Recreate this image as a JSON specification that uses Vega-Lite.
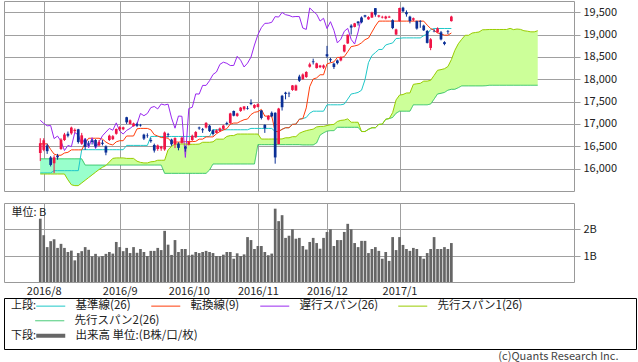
{
"$schema":"https://vega.github.io/schema/vega-lite/v6.json",
"padding":{"left":3,"top":0,"right":0,"bottom":0},
"background":"white",
"config":{"font":"Noto Sans CJK JP","view":{"stroke":"#999999","strokeWidth":1},
"axis":{"labelFont":"Noto Sans CJK JP","labelFontSize":11,"labelColor":"#222222","gridColor":"#a0a0a0","gridWidth":1,"gridOpacity":1,"tickColor":"#a0a0a0","tickWidth":1,"labelOverlap":false},
"legend":{"labelFont":"Noto Sans CJK JP","titleFont":"Noto Sans CJK JP","labelColor":"#222222","titleColor":"#222222"},
"title":{"font":"Noto Sans CJK JP"}},
"title":{"text":"(c)Quants Research Inc.","orient":"bottom","anchor":"end","fontSize":11,"fontWeight":"normal","color":"#444444","offset":1,"dx":-18},
"data":{"values":[
{"d":"2016-07-29","o":16350,"h":16680,"l":16170,"c":16569,"v":2.39,"tk":16554,"kj":15904,"ch":17081,"s1":15880,"s2":16220},
{"d":"2016-08-01","o":16420,"h":16680,"l":16390,"c":16635,"v":1.78,"tk":16554,"kj":15904,"ch":17012,"s1":15880,"s2":16220},
{"d":"2016-08-02","o":16520,"h":16560,"l":16330,"c":16391,"v":1.34,"tk":16554,"kj":15904,"ch":16958,"s1":15880,"s2":16220},
{"d":"2016-08-03","o":16250,"h":16280,"l":16050,"c":16083,"v":1.56,"tk":16430,"kj":15904,"ch":16965,"s1":15880,"s2":16220},
{"d":"2016-08-04","o":16120,"h":16300,"l":15900,"c":16254,"v":1.63,"tk":16325,"kj":15955,"ch":16672,"s1":15880,"s2":16220},
{"d":"2016-08-05","o":16290,"h":16330,"l":16200,"c":16254,"v":1.31,"tk":16300,"kj":15955,"ch":16729,"s1":15880,"s2":16220},
{"d":"2016-08-08","o":16440,"h":16680,"l":16420,"c":16650,"v":1.46,"tk":16300,"kj":15955,"ch":16614,"s1":15880,"s2":16220},
{"d":"2016-08-09","o":16640,"h":16800,"l":16620,"c":16764,"v":1.31,"tk":16350,"kj":15955,"ch":16405,"s1":15880,"s2":16220},
{"d":"2016-08-10","o":16780,"h":16830,"l":16700,"c":16735,"v":1.16,"tk":16365,"kj":15955,"ch":16519,"s1":15750,"s2":16220},
{"d":"2016-08-12","o":16790,"h":16940,"l":16760,"c":16919,"v":1.21,"tk":16420,"kj":15955,"ch":16492,"s1":15640,"s2":16220},
{"d":"2016-08-15","o":16840,"h":16900,"l":16800,"c":16869,"v":0.85,"tk":16420,"kj":15955,"ch":16807,"s1":15620,"s2":16220},
{"d":"2016-08-16","o":16880,"h":16890,"l":16560,"c":16596,"v":1.12,"tk":16420,"kj":15955,"ch":16754,"s1":15620,"s2":16220},
{"d":"2016-08-17","o":16560,"h":16800,"l":16540,"c":16745,"v":1.19,"tk":16420,"kj":16424,"ch":16544,"s1":15680,"s2":16220},
{"d":"2016-08-18","o":16650,"h":16670,"l":16420,"c":16486,"v":1.34,"tk":16570,"kj":16424,"ch":16683,"s1":15740,"s2":16080},
{"d":"2016-08-19","o":16560,"h":16620,"l":16500,"c":16545,"v":1.24,"tk":16680,"kj":16424,"ch":16465,"s1":15800,"s2":16080},
{"d":"2016-08-22","o":16630,"h":16660,"l":16540,"c":16598,"v":1.00,"tk":16680,"kj":16424,"ch":16693,"s1":15860,"s2":16080},
{"d":"2016-08-23","o":16640,"h":16660,"l":16470,"c":16497,"v":1.09,"tk":16680,"kj":16424,"ch":16449,"s1":15920,"s2":16080},
{"d":"2016-08-24","o":16520,"h":16640,"l":16500,"c":16597,"v":0.97,"tk":16680,"kj":16424,"ch":16598,"s1":15980,"s2":16080},
{"d":"2016-08-25","o":16580,"h":16640,"l":16520,"c":16555,"v":1.01,"tk":16660,"kj":16424,"ch":16735,"s1":16030,"s2":16080},
{"d":"2016-08-26","o":16500,"h":16520,"l":16300,"c":16360,"v":1.09,"tk":16595,"kj":16424,"ch":16819,"s1":16070,"s2":16080},
{"d":"2016-08-29","o":16640,"h":16760,"l":16620,"c":16737,"v":1.16,"tk":16550,"kj":16424,"ch":16899,"s1":16150,"s2":16080},
{"d":"2016-08-30","o":16660,"h":16750,"l":16640,"c":16725,"v":1.10,"tk":16530,"kj":16424,"ch":16860,"s1":16230,"s2":16080},
{"d":"2016-08-31","o":16780,"h":16900,"l":16760,"c":16887,"v":1.53,"tk":16600,"kj":16424,"ch":17024,"s1":16240,"s2":16080},
{"d":"2016-09-01","o":16880,"h":16950,"l":16850,"c":16926,"v":1.34,"tk":16625,"kj":16424,"ch":16840,"s1":16240,"s2":16080},
{"d":"2016-09-02","o":16880,"h":16940,"l":16860,"c":16925,"v":1.19,"tk":16625,"kj":16424,"ch":16774,"s1":16240,"s2":16080},
{"d":"2016-09-05","o":17150,"h":17160,"l":17000,"c":17037,"v":1.31,"tk":16730,"kj":16520,"ch":16856,"s1":16229,"s2":16080},
{"d":"2016-09-06","o":17000,"h":17100,"l":16990,"c":17081,"v":1.12,"tk":16730,"kj":16520,"ch":16900,"s1":16229,"s2":16080},
{"d":"2016-09-07","o":16950,"h":17030,"l":16940,"c":17012,"v":1.34,"tk":16730,"kj":16520,"ch":16963,"s1":16229,"s2":16080},
{"d":"2016-09-08","o":17000,"h":17030,"l":16930,"c":16958,"v":1.13,"tk":16890,"kj":16520,"ch":16998,"s1":16167,"s2":16080},
{"d":"2016-09-09","o":16980,"h":17000,"l":16940,"c":16965,"v":1.27,"tk":16900,"kj":16520,"ch":17235,"s1":16140,"s2":16080},
{"d":"2016-09-12","o":16760,"h":16780,"l":16640,"c":16672,"v":1.16,"tk":16900,"kj":16520,"ch":17184,"s1":16128,"s2":16080},
{"d":"2016-09-13","o":16740,"h":16790,"l":16690,"c":16729,"v":1.01,"tk":16900,"kj":16520,"ch":17234,"s1":16128,"s2":16080},
{"d":"2016-09-14","o":16640,"h":16690,"l":16580,"c":16614,"v":1.20,"tk":16870,"kj":16720,"ch":17365,"s1":16153,"s2":16080},
{"d":"2016-09-15","o":16530,"h":16560,"l":16360,"c":16405,"v":1.20,"tk":16760,"kj":16720,"ch":17391,"s1":16160,"s2":16080},
{"d":"2016-09-16","o":16440,"h":16540,"l":16400,"c":16519,"v":1.31,"tk":16730,"kj":16720,"ch":17336,"s1":16188,"s2":16080},
{"d":"2016-09-20","o":16450,"h":16510,"l":16400,"c":16492,"v":1.23,"tk":16695,"kj":16720,"ch":17446,"s1":16188,"s2":16080},
{"d":"2016-09-21","o":16430,"h":16830,"l":16400,"c":16807,"v":1.94,"tk":16695,"kj":16720,"ch":17425,"s1":16188,"s2":15895},
{"d":"2016-09-23","o":16770,"h":16800,"l":16700,"c":16754,"v":1.43,"tk":16680,"kj":16720,"ch":17442,"s1":16422,"s2":15895},
{"d":"2016-09-26","o":16650,"h":16670,"l":16510,"c":16544,"v":1.05,"tk":16595,"kj":16720,"ch":17134,"s1":16497,"s2":15895},
{"d":"2016-09-27","o":16540,"h":16700,"l":16460,"c":16683,"v":1.60,"tk":16595,"kj":16720,"ch":16905,"s1":16552,"s2":15895},
{"d":"2016-09-28","o":16560,"h":16590,"l":16410,"c":16465,"v":1.16,"tk":16595,"kj":16720,"ch":17177,"s1":16552,"s2":15895},
{"d":"2016-09-29","o":16580,"h":16720,"l":16560,"c":16693,"v":1.27,"tk":16595,"kj":16720,"ch":17171,"s1":16552,"s2":15895},
{"d":"2016-09-30","o":16490,"h":16510,"l":16380,"c":16449,"v":1.27,"tk":16605,"kj":16720,"ch":16251,"s1":16552,"s2":15895},
{"d":"2016-10-03","o":16540,"h":16620,"l":16520,"c":16598,"v":1.04,"tk":16605,"kj":16720,"ch":17344,"s1":16542,"s2":15895},
{"d":"2016-10-04","o":16640,"h":16760,"l":16620,"c":16735,"v":1.06,"tk":16605,"kj":16720,"ch":17374,"s1":16545,"s2":15895},
{"d":"2016-10-05","o":16700,"h":16840,"l":16690,"c":16819,"v":1.16,"tk":16610,"kj":16720,"ch":17672,"s1":16545,"s2":15895},
{"d":"2016-10-06","o":16920,"h":16940,"l":16870,"c":16899,"v":1.12,"tk":16660,"kj":16720,"ch":17668,"s1":16550,"s2":15895},
{"d":"2016-10-07","o":16880,"h":16910,"l":16800,"c":16860,"v":1.16,"tk":16660,"kj":16720,"ch":17862,"s1":16590,"s2":15895},
{"d":"2016-10-11","o":16920,"h":17040,"l":16900,"c":17024,"v":1.20,"tk":16710,"kj":16720,"ch":17862,"s1":16590,"s2":15895},
{"d":"2016-10-12","o":16960,"h":16980,"l":16820,"c":16840,"v":1.16,"tk":16710,"kj":16720,"ch":17967,"s1":16590,"s2":15970},
{"d":"2016-10-13","o":16860,"h":16880,"l":16740,"c":16774,"v":1.12,"tk":16710,"kj":16870,"ch":18106,"s1":16600,"s2":16104},
{"d":"2016-10-14","o":16800,"h":16880,"l":16790,"c":16856,"v":1.01,"tk":16780,"kj":16870,"ch":18162,"s1":16660,"s2":16104},
{"d":"2016-10-17","o":16840,"h":16920,"l":16820,"c":16900,"v":1.01,"tk":16830,"kj":16870,"ch":18333,"s1":16660,"s2":16104},
{"d":"2016-10-18","o":16890,"h":16980,"l":16870,"c":16963,"v":1.06,"tk":16865,"kj":16870,"ch":18381,"s1":16660,"s2":16104},
{"d":"2016-10-19","o":17020,"h":17050,"l":16970,"c":16998,"v":1.16,"tk":16895,"kj":16870,"ch":18356,"s1":16720,"s2":16104},
{"d":"2016-10-20","o":17020,"h":17250,"l":17000,"c":17235,"v":1.16,"tk":16995,"kj":16870,"ch":18307,"s1":16740,"s2":16104},
{"d":"2016-10-21","o":17290,"h":17300,"l":17170,"c":17184,"v":0.91,"tk":17020,"kj":16870,"ch":18308,"s1":16740,"s2":16104},
{"d":"2016-10-24","o":17180,"h":17250,"l":17160,"c":17234,"v":1.11,"tk":17020,"kj":16870,"ch":18513,"s1":16774,"s2":16104},
{"d":"2016-10-25","o":17290,"h":17380,"l":17270,"c":17365,"v":1.01,"tk":17060,"kj":16870,"ch":18426,"s1":16774,"s2":16104},
{"d":"2016-10-26","o":17330,"h":17400,"l":17300,"c":17391,"v":1.07,"tk":17095,"kj":16870,"ch":18274,"s1":16774,"s2":16104},
{"d":"2016-10-27","o":17350,"h":17400,"l":17320,"c":17336,"v":1.71,"tk":17110,"kj":16870,"ch":18360,"s1":16774,"s2":16104},
{"d":"2016-10-28","o":17470,"h":17550,"l":17420,"c":17446,"v":1.60,"tk":17210,"kj":16900,"ch":18496,"s1":16774,"s2":16104},
{"d":"2016-10-31","o":17360,"h":17440,"l":17340,"c":17425,"v":1.27,"tk":17260,"kj":16900,"ch":18765,"s1":16774,"s2":16104},
{"d":"2016-11-01","o":17380,"h":17460,"l":17370,"c":17442,"v":1.38,"tk":17275,"kj":16900,"ch":18996,"s1":16774,"s2":16536},
{"d":"2016-11-02","o":17300,"h":17310,"l":17100,"c":17134,"v":1.38,"tk":17325,"kj":16900,"ch":19155,"s1":16662,"s2":16536},
{"d":"2016-11-04","o":16980,"h":16990,"l":16800,"c":16905,"v":1.16,"tk":17175,"kj":16900,"ch":19250,"s1":16662,"s2":16536},
{"d":"2016-11-07","o":17100,"h":17200,"l":17080,"c":17177,"v":1.04,"tk":17175,"kj":16900,"ch":19253,"s1":16662,"s2":16536},
{"d":"2016-11-08","o":17250,"h":17280,"l":17150,"c":17171,"v":1.10,"tk":17175,"kj":16900,"ch":19273,"s1":16663,"s2":16536},
{"d":"2016-11-09","o":17250,"h":17260,"l":16111,"c":16251,"v":2.76,"tk":16830,"kj":16830,"ch":19401,"s1":16663,"s2":16536},
{"d":"2016-11-10","o":16550,"h":17360,"l":16540,"c":17344,"v":2.30,"tk":16830,"kj":16830,"ch":19391,"s1":16663,"s2":16536},
{"d":"2016-11-11","o":17630,"h":17650,"l":17300,"c":17374,"v":2.52,"tk":16880,"kj":16880,"ch":19494,"s1":16665,"s2":16536},
{"d":"2016-11-14","o":17700,"h":17720,"l":17550,"c":17672,"v":1.68,"tk":16915,"kj":16915,"ch":19444,"s1":16690,"s2":16536},
{"d":"2016-11-15","o":17680,"h":17720,"l":17600,"c":17668,"v":1.76,"tk":16915,"kj":16915,"ch":19427,"s1":16690,"s2":16536},
{"d":"2016-11-16","o":17760,"h":17870,"l":17740,"c":17862,"v":2.00,"tk":16990,"kj":16990,"ch":19396,"s1":16715,"s2":16536},
{"d":"2016-11-17","o":17750,"h":17880,"l":17740,"c":17862,"v":1.65,"tk":16995,"kj":16995,"ch":19403,"s1":16715,"s2":16536},
{"d":"2016-11-18","o":18060,"h":18100,"l":17940,"c":17967,"v":1.68,"tk":17105,"kj":17105,"ch":19401,"s1":16790,"s2":16536},
{"d":"2016-11-21","o":18000,"h":18130,"l":17990,"c":18106,"v":1.38,"tk":17120,"kj":17120,"ch":19145,"s1":16825,"s2":16530},
{"d":"2016-11-22","o":18050,"h":18180,"l":18030,"c":18162,"v":1.25,"tk":17360,"kj":17145,"ch":19114,"s1":16850,"s2":16530},
{"d":"2016-11-24","o":18280,"h":18370,"l":18260,"c":18333,"v":1.53,"tk":17835,"kj":17240,"ch":19594,"s1":16868,"s2":16530},
{"d":"2016-11-25","o":18400,"h":18460,"l":18330,"c":18381,"v":1.68,"tk":18005,"kj":17285,"ch":19520,"s1":16883,"s2":16530},
{"d":"2016-11-28","o":18250,"h":18370,"l":18240,"c":18356,"v":1.49,"tk":18030,"kj":17285,"ch":19454,"s1":16933,"s2":16575},
{"d":"2016-11-29","o":18270,"h":18320,"l":18250,"c":18307,"v":1.28,"tk":18100,"kj":17285,"ch":19301,"s1":16945,"s2":16750},
{"d":"2016-11-30","o":18260,"h":18330,"l":18230,"c":18308,"v":1.68,"tk":18100,"kj":17285,"ch":19364,"s1":16945,"s2":16800},
{"d":"2016-12-01","o":18560,"h":18746,"l":18480,"c":18513,"v":1.90,"tk":18343,"kj":17428,"ch":19134,"s1":16965,"s2":16840},
{"d":"2016-12-02","o":18450,"h":18480,"l":18380,"c":18426,"v":2.00,"tk":18368,"kj":17428,"ch":19287,"s1":16983,"s2":16850},
{"d":"2016-12-05","o":18350,"h":18370,"l":18230,"c":18274,"v":1.38,"tk":18388,"kj":17428,"ch":19095,"s1":16990,"s2":16850},
{"d":"2016-12-06","o":18420,"h":18440,"l":18330,"c":18360,"v":1.60,"tk":18488,"kj":17428,"ch":18813,"s1":17055,"s2":16925},
{"d":"2016-12-07","o":18420,"h":18510,"l":18400,"c":18496,"v":1.60,"tk":18488,"kj":17428,"ch":18894,"s1":17080,"s2":16925},
{"d":"2016-12-08","o":18620,"h":18780,"l":18600,"c":18765,"v":1.90,"tk":18505,"kj":17445,"ch":19072,"s1":17088,"s2":16925},
{"d":"2016-12-09","o":18800,"h":19000,"l":18790,"c":18996,"v":2.20,"tk":18615,"kj":17555,"ch":19137,"s1":17113,"s2":16925},
{"d":"2016-12-12","o":19200,"h":19230,"l":19000,"c":19155,"v":2.00,"tk":18730,"kj":17670,"ch":18891,"s1":17038,"s2":16925},
{"d":"2016-12-13","o":19170,"h":19260,"l":19160,"c":19250,"v":1.49,"tk":18745,"kj":17685,"ch":18787,"s1":17038,"s2":16925},
{"d":"2016-12-14","o":19290,"h":19300,"l":19200,"c":19253,"v":1.34,"tk":18765,"kj":17705,"ch":19057,"s1":17038,"s2":16925},
{"d":"2016-12-15","o":19380,"h":19400,"l":19250,"c":19273,"v":1.57,"tk":18815,"kj":17755,"ch":19402,"s1":16830,"s2":16830},
{"d":"2016-12-16","o":19430,"h":19440,"l":19380,"c":19401,"v":1.57,"tk":18885,"kj":17990,"s1":16830,"s2":16830},
{"d":"2016-12-19","o":19340,"h":19410,"l":19330,"c":19391,"v":1.12,"tk":18920,"kj":18370,"s1":16880,"s2":16880},
{"d":"2016-12-20","o":19380,"h":19510,"l":19370,"c":19494,"v":1.27,"tk":19055,"kj":18530,"s1":16915,"s2":16915},
{"d":"2016-12-21","o":19590,"h":19592,"l":19400,"c":19444,"v":1.34,"tk":19191,"kj":18596,"s1":16915,"s2":16915},
{"d":"2016-12-22","o":19400,"h":19440,"l":19380,"c":19427,"v":1.20,"tk":19300,"kj":18666,"s1":16990,"s2":16990},
{"d":"2016-12-26","o":19380,"h":19420,"l":19360,"c":19396,"v":0.91,"tk":19300,"kj":18666,"s1":16995,"s2":16995},
{"d":"2016-12-27","o":19360,"h":19420,"l":19340,"c":19403,"v":1.16,"tk":19300,"kj":18766,"s1":17105,"s2":17105},
{"d":"2016-12-28","o":19380,"h":19420,"l":19370,"c":19401,"v":0.83,"tk":19300,"kj":18791,"s1":17120,"s2":17120},
{"d":"2016-12-29","o":19320,"h":19340,"l":19120,"c":19145,"v":1.71,"tk":19300,"kj":18811,"s1":17253,"s2":17145},
{"d":"2016-12-30","o":19000,"h":19130,"l":18990,"c":19114,"v":1.23,"tk":19300,"kj":18911,"s1":17538,"s2":17240},
{"d":"2017-01-04","o":19300,"h":19600,"l":19290,"c":19594,"v":1.71,"tk":19300,"kj":18915,"s1":17645,"s2":17285},
{"d":"2017-01-05","o":19600,"h":19620,"l":19500,"c":19520,"v":1.42,"tk":19300,"kj":18925,"s1":17658,"s2":17285},
{"d":"2017-01-06","o":19500,"h":19540,"l":19400,"c":19454,"v":1.27,"tk":19300,"kj":18925,"s1":17693,"s2":17285},
{"d":"2017-01-10","o":19400,"h":19420,"l":19250,"c":19301,"v":1.20,"tk":19300,"kj":18925,"s1":17693,"s2":17285},
{"d":"2017-01-11","o":19330,"h":19380,"l":19300,"c":19364,"v":1.31,"tk":19300,"kj":18925,"s1":17886,"s2":17428},
{"d":"2017-01-12","o":19300,"h":19310,"l":19110,"c":19134,"v":1.27,"tk":19300,"kj":18925,"s1":17898,"s2":17428},
{"d":"2017-01-13","o":19300,"h":19320,"l":19150,"c":19287,"v":1.01,"tk":19300,"kj":18925,"s1":17908,"s2":17428},
{"d":"2017-01-16","o":19200,"h":19220,"l":19080,"c":19095,"v":0.91,"tk":19300,"kj":18975,"s1":17958,"s2":17428},
{"d":"2017-01-17","o":19080,"h":19100,"l":18800,"c":18813,"v":1.12,"tk":19210,"kj":19010,"s1":17958,"s2":17428},
{"d":"2017-01-18","o":18700,"h":18920,"l":18650,"c":18894,"v":1.27,"tk":19135,"kj":19110,"s1":17975,"s2":17445},
{"d":"2017-01-19","o":19080,"h":19120,"l":19050,"c":19072,"v":1.71,"tk":19095,"kj":19135,"s1":18085,"s2":17555},
{"d":"2017-01-20","o":19050,"h":19160,"l":19040,"c":19137,"v":1.27,"tk":19035,"kj":19135,"s1":18200,"s2":17670},
{"d":"2017-01-23","o":19050,"h":19080,"l":18870,"c":18891,"v":1.27,"tk":19015,"kj":19135,"s1":18215,"s2":17685},
{"d":"2017-01-24","o":18830,"h":18850,"l":18760,"c":18787,"v":1.34,"tk":18985,"kj":19135,"s1":18235,"s2":17705},
{"d":"2017-01-25","o":19070,"h":19100,"l":19010,"c":19057,"v":1.27,"tk":18985,"kj":19135,"s1":18285,"s2":17755},
{"d":"2017-01-26","o":19300,"h":19420,"l":19290,"c":19402,"v":1.49,"tk":19035,"kj":19135,"s1":18438,"s2":17775},
{"d":"2017-01-27","s1":18645,"s2":17775},
{"d":"2017-01-30","s1":18793,"s2":17810},
{"d":"2017-01-31","s1":18894,"s2":17851},
{"d":"2017-02-01","s1":18983,"s2":17851},
{"d":"2017-02-02","s1":18983,"s2":17851},
{"d":"2017-02-03","s1":19033,"s2":17851},
{"d":"2017-02-06","s1":19046,"s2":17851},
{"d":"2017-02-07","s1":19056,"s2":17851},
{"d":"2017-02-08","s1":19106,"s2":17851},
{"d":"2017-02-09","s1":19108,"s2":17855},
{"d":"2017-02-10","s1":19113,"s2":17865},
{"d":"2017-02-13","s1":19113,"s2":17865},
{"d":"2017-02-14","s1":19113,"s2":17865},
{"d":"2017-02-15","s1":19113,"s2":17865},
{"d":"2017-02-16","s1":19113,"s2":17865},
{"d":"2017-02-17","s1":19113,"s2":17865},
{"d":"2017-02-20","s1":19138,"s2":17865},
{"d":"2017-02-21","s1":19110,"s2":17865},
{"d":"2017-02-22","s1":19123,"s2":17865},
{"d":"2017-02-23","s1":19115,"s2":17865},
{"d":"2017-02-24","s1":19085,"s2":17865},
{"d":"2017-02-27","s1":19075,"s2":17865},
{"d":"2017-02-28","s1":19060,"s2":17865},
{"d":"2017-03-01","s1":19060,"s2":17865},
{"d":"2017-03-02","s1":19085,"s2":17865}
]},
"spacing":0,
"vconcat":[
{"spacing":10,"resolve":{"scale":{"x":"shared"}},
"vconcat":[
{"width":570,"height":190,
"encoding":{"x":{"field":"d","type":"ordinal","scale":{"type":"point","padding":0.5,"domain":["2016-07-14","2016-07-15","2016-07-19","2016-07-20","2016-07-21","2016-07-22","2016-07-25","2016-07-26","2016-07-27","2016-07-28","2016-07-29","2016-08-01","2016-08-02","2016-08-03","2016-08-04","2016-08-05","2016-08-08","2016-08-09","2016-08-10","2016-08-12","2016-08-15","2016-08-16","2016-08-17","2016-08-18","2016-08-19","2016-08-22","2016-08-23","2016-08-24","2016-08-25","2016-08-26","2016-08-29","2016-08-30","2016-08-31","2016-09-01","2016-09-02","2016-09-05","2016-09-06","2016-09-07","2016-09-08","2016-09-09","2016-09-12","2016-09-13","2016-09-14","2016-09-15","2016-09-16","2016-09-20","2016-09-21","2016-09-23","2016-09-26","2016-09-27","2016-09-28","2016-09-29","2016-09-30","2016-10-03","2016-10-04","2016-10-05","2016-10-06","2016-10-07","2016-10-11","2016-10-12","2016-10-13","2016-10-14","2016-10-17","2016-10-18","2016-10-19","2016-10-20","2016-10-21","2016-10-24","2016-10-25","2016-10-26","2016-10-27","2016-10-28","2016-10-31","2016-11-01","2016-11-02","2016-11-04","2016-11-07","2016-11-08","2016-11-09","2016-11-10","2016-11-11","2016-11-14","2016-11-15","2016-11-16","2016-11-17","2016-11-18","2016-11-21","2016-11-22","2016-11-24","2016-11-25","2016-11-28","2016-11-29","2016-11-30","2016-12-01","2016-12-02","2016-12-05","2016-12-06","2016-12-07","2016-12-08","2016-12-09","2016-12-12","2016-12-13","2016-12-14","2016-12-15","2016-12-16","2016-12-19","2016-12-20","2016-12-21","2016-12-22","2016-12-26","2016-12-27","2016-12-28","2016-12-29","2016-12-30","2017-01-04","2017-01-05","2017-01-06","2017-01-10","2017-01-11","2017-01-12","2017-01-13","2017-01-16","2017-01-17","2017-01-18","2017-01-19","2017-01-20","2017-01-23","2017-01-24","2017-01-25","2017-01-26","2017-01-27","2017-01-30","2017-01-31","2017-02-01","2017-02-02","2017-02-03","2017-02-06","2017-02-07","2017-02-08","2017-02-09","2017-02-10","2017-02-13","2017-02-14","2017-02-15","2017-02-16","2017-02-17","2017-02-20","2017-02-21","2017-02-22","2017-02-23","2017-02-24","2017-02-27","2017-02-28","2017-03-01","2017-03-02","2017-03-03","2017-03-06","2017-03-07","2017-03-08","2017-03-09","2017-03-10","2017-03-13","2017-03-14","2017-03-15","2017-03-16"]},"axis":{"values":["2016-08-01","2016-09-01","2016-10-03","2016-11-01","2016-12-01","2017-01-04"],"labels":false,"ticks":false,"domain":false,"grid":true,"title":null}}},
"layer":[
{"mark":{"type":"area","color":"#ccff99","opacity":1},
"encoding":{"y":{"field":"s1","type":"quantitative","scale":{"domain":[15500,19750],"nice":false,"zero":false},"axis":{"orient":"right","values":[16000,16500,17000,17500,18000,18500,19000,19500],"format":",d","title":null,"grid":true,"tickSize":6,"domain":false,"labelPadding":3,"labelOverlap":false}},"y2":{"field":"s2"}}},
{"transform":[{"filter":"datum.s2 > datum.s1"}],"mark":{"type":"area","color":"#99ffcc","opacity":1},
"encoding":{"y":{"field":"s1","type":"quantitative","axis":{"orient":"right","values":[16000,16500,17000,17500,18000,18500,19000,19500],"format":",d","title":null,"grid":true,"tickSize":6,"domain":false,"labelPadding":3,"labelOverlap":false}},"y2":{"field":"s2"}}},
{"mark":{"type":"line","color":"#33c466","strokeWidth":1},
"encoding":{"y":{"field":"s2","type":"quantitative","axis":{"orient":"right","values":[16000,16500,17000,17500,18000,18500,19000,19500],"format":",d","title":null,"grid":true,"tickSize":6,"domain":false,"labelPadding":3,"labelOverlap":false}},
"strokeDash":{"datum":"先行スパン2(26)","type":"nominal","scale":{"range":[[1,0]]},
"legend":{"orient":"none","legendX":40,"legendY":314,"direction":"horizontal","title":null,"symbolType":"M-7.25,0H7.25","symbolSize":16,"symbolStrokeWidth":1,"symbolStrokeColor":"#33c466","labelFontSize":11.5,"labelOffset":19,"labelLimit":0,"padding":0}}}},
{"transform":[{"fold":["kj","tk","ch","s1"],"as":["key","val"]}],"mark":{"type":"line","strokeWidth":1},
"encoding":{"y":{"field":"val","type":"quantitative","axis":{"orient":"right","values":[16000,16500,17000,17500,18000,18500,19000,19500],"format":",d","title":null,"grid":true,"tickSize":6,"domain":false,"labelPadding":3,"labelOverlap":false}},
"stroke":{"field":"key","type":"nominal","scale":{"domain":["kj","tk","ch","s1"],"range":["#1ec8c8","#ff3c0a","#9a28f0","#99cc00"]},
"legend":{"orient":"none","legendX":7,"legendY":299,"direction":"horizontal","title":"上段:","titleOrient":"left","titleAnchor":"start","titleFontSize":11,"titleFontWeight":"normal","titlePadding":8,"columnPadding":18,"symbolType":"M-7.25,0H7.25","symbolSize":16,"symbolStrokeWidth":1,"labelFontSize":11.5,"labelOffset":19,"labelLimit":0,"padding":0,
"labelExpr":"datum.label == 'kj' ? '基準線(26)' : datum.label == 'tk' ? '転換線(9)' : datum.label == 'ch' ? '遅行スパン(26)' : '先行スパン1(26)'"}}}},
{"mark":{"type":"rule","strokeWidth":1},
"encoding":{"y":{"field":"l","type":"quantitative","axis":{"orient":"right","values":[16000,16500,17000,17500,18000,18500,19000,19500],"format":",d","title":null,"grid":true,"tickSize":6,"domain":false,"labelPadding":3,"labelOverlap":false}},"y2":{"field":"h"},"color":{"condition":{"test":"datum.c >= datum.o","value":"#f01446"},"value":"#0a2f96"}}},
{"mark":{"type":"bar","width":2.7},
"encoding":{"y":{"field":"o","type":"quantitative","axis":{"orient":"right","values":[16000,16500,17000,17500,18000,18500,19000,19500],"format":",d","title":null,"grid":true,"tickSize":6,"domain":false,"labelPadding":3,"labelOverlap":false}},"y2":{"field":"c"},"color":{"condition":{"test":"datum.c >= datum.o","value":"#f01446"},"value":"#0a2f96"}}}
]},
{"width":570,"height":79,
"encoding":{
"x":{"field":"d","type":"ordinal","scale":{"type":"point","padding":0.5},"axis":{"values":["2016-08-01","2016-09-01","2016-10-03","2016-11-01","2016-12-01","2017-01-04"],"labelExpr":"slice(datum.value,0,4) + '/' + toNumber(slice(datum.value,5,7))","ticks":false,"domain":false,"grid":true,"labelPadding":3,"labelAngle":0,"title":null}}},
"resolve":{"axis":{"y":"independent"}},
"layer":[
{"mark":{"type":"bar","width":2.7,"clip":true},
"encoding":{
"y":{"field":"v","type":"quantitative","scale":{"domain":[0.05,2.97],"nice":false,"zero":false},"axis":{"orient":"right","values":[1,2],"labelExpr":"datum.value + 'B'","title":null,"grid":true,"tickSize":6,"domain":false,"labelPadding":3}},
"color":{"datum":"出来高 単位:(B株/口/枚)","type":"nominal","scale":{"range":["#666666"]},
"legend":{"orient":"none","legendX":7,"legendY":329,"direction":"horizontal","title":"下段:","titleOrient":"left","titleFontSize":11,"titleFontWeight":"normal","titlePadding":8,"symbolType":"M-7.25,-1H7.25V1H-7.25Z","symbolSize":16,"labelFontSize":11.5,"labelOffset":19,"labelLimit":0,"padding":0}}}},
{"mark":{"type":"bar","width":2.7,"clip":true,"opacity":0},
"encoding":{
"y":{"field":"v","type":"quantitative","axis":{"orient":"left","labels":false,"ticks":false,"domain":false,"grid":false,"title":"単位: B","titleAngle":0,"titleX":7,"titleY":9,"titleAlign":"left","titleBaseline":"middle","titleFontSize":11,"titleFontWeight":"normal","titleColor":"#222222"}}}}
]}
]},
{"width":632,"height":51,"view":{"stroke":"#000000","strokeWidth":1},"mark":{"type":"point","opacity":0},"encoding":{}}
]
}
